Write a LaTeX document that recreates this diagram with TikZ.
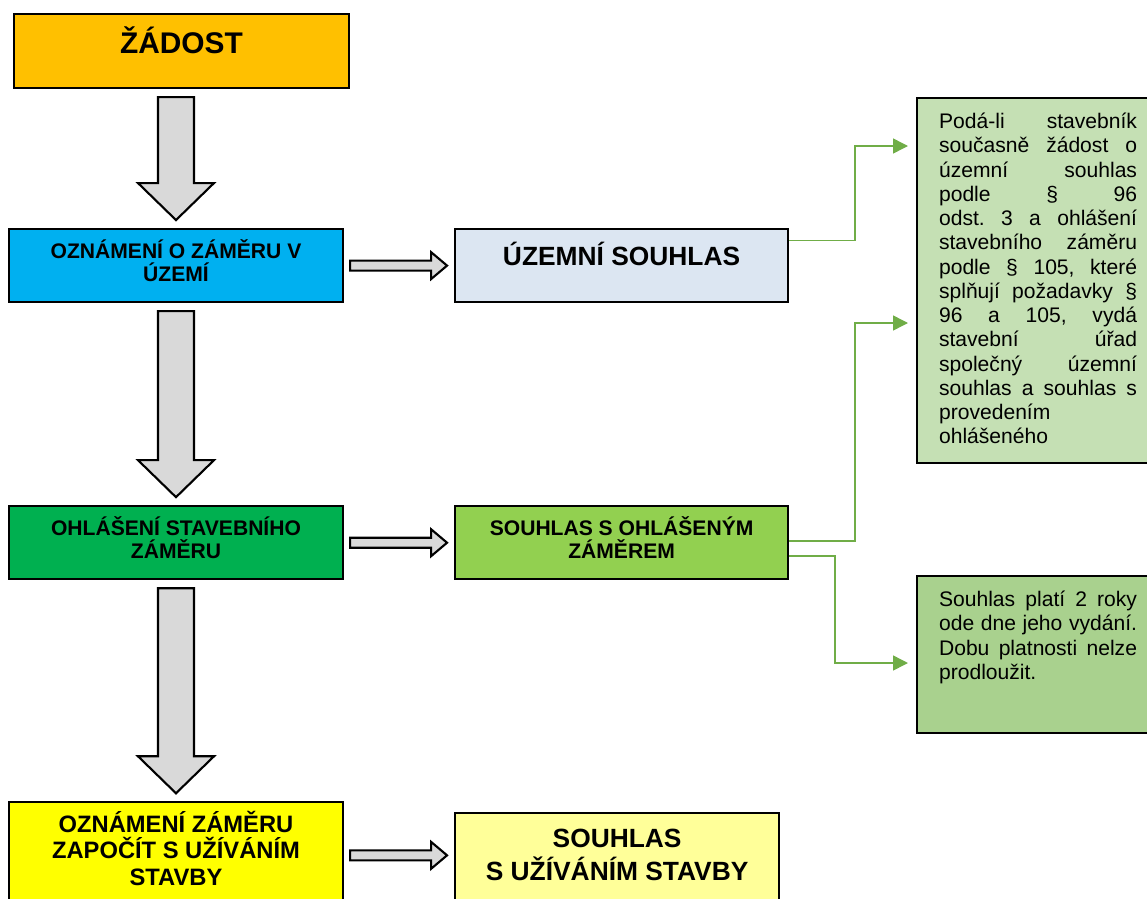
\documentclass[tikz,border=0pt]{standalone}
\usepackage{fontspec}
\setmainfont{Liberation Sans}
\usepackage{xcolor}
\usepackage{tikz}
\usetikzlibrary{positioning,calc,arrows.meta}

\definecolor{orangeA}{HTML}{FFC000}
\definecolor{blueA}{HTML}{00B0F0}
\definecolor{blueL}{HTML}{DCE6F2}
\definecolor{greenA}{HTML}{00B050}
\definecolor{greenL}{HTML}{92D050}
\definecolor{yellowA}{HTML}{FFFF00}
\definecolor{yellowL}{HTML}{FFFF99}
\definecolor{noteA}{HTML}{C5E0B4}
\definecolor{noteB}{HTML}{A9D18E}
\definecolor{arrowgray}{HTML}{D9D9D9}
\definecolor{linkgreen}{HTML}{70AD47}

\newcommand{\downblock}[2]{%
  \path[bigarr] let \p1=(#1), \p2=(#2) in
    (\x2-0.36cm,\y1-0.16cm) -- (\x2+0.36cm,\y1-0.16cm) -- (\x2+0.36cm,\y2+0.90cm)
    -- (\x2+0.76cm,\y2+0.90cm) -- (\x2,\y2+0.16cm) -- (\x2-0.76cm,\y2+0.90cm)
    -- (\x2-0.36cm,\y2+0.90cm) -- cycle;}
\newcommand{\rightblock}[2]{%
  \path[bigarr] let \p1=(#1), \p2=(#2) in
    (\x1+0.12cm,\y1+0.1cm) -- (\x2-0.46cm,\y1+0.1cm) -- (\x2-0.46cm,\y1+0.27cm)
    -- (\x2-0.14cm,\y1) -- (\x2-0.46cm,\y1-0.27cm) -- (\x2-0.46cm,\y1-0.1cm)
    -- (\x1+0.12cm,\y1-0.1cm) -- cycle;}
\newcommand{\notepar}[2]{%
  \begin{minipage}[t][#1][t]{3.96cm}
  \frenchspacing
  \hyphenpenalty=10000 \exhyphenpenalty=10000 \hbadness=10000
  #2
  \end{minipage}}

\begin{document}
\begin{tikzpicture}[
    stage/.style={
        rectangle,draw,line width=1.2pt,
        minimum width=6.68cm,
        minimum height=1.46cm,
        align=center,
        text depth=0.2cm,
        font=\bfseries\fontsize{12}{12.8}\selectfont
    },
    note/.style={
        rectangle,draw,line width=1.2pt,
        anchor=north west,
        inner xsep=0.44cm, inner ysep=0.3cm,
        font=\fontsize{12}{13.8}\selectfont
    },
    bigarr/.style={draw,line width=1.2pt,fill=arrowgray,line join=miter},
    link/.style={draw=linkgreen,line width=0.85pt,-{Triangle[length=0.3cm,width=0.3cm]}}
]
\useasboundingbox (0,0) rectangle (22.94,-17.98);

\node[stage, fill=orangeA, minimum width=6.70cm, minimum height=1.48cm,
      text height=0.5cm, text depth=0.4cm,
      font=\bfseries\fontsize{17}{20}\selectfont] (zadost) at (3.63,-1.02) {ŽÁDOST};
\node[stage, fill=blueA, below=2.78cm of zadost, xshift=-0.11cm] (oznameni) {OZNÁMENÍ O ZÁMĚRU V\\ÚZEMÍ};
\node[stage, fill=greenA, below=4.04cm of oznameni] (ohlaseni) {OHLÁŠENÍ STAVEBNÍHO\\ZÁMĚRU};
\node[stage, fill=yellowA, below=4.42cm of ohlaseni, minimum height=2.12cm, text depth=0.28cm,
      font=\bfseries\fontsize{13.5}{15.3}\selectfont] (uzivani) {OZNÁMENÍ ZÁMĚRU\\ZAPOČÍT S UŽÍVÁNÍM\\STAVBY};

\node[stage, fill=blueL, right=2.2cm of oznameni, minimum width=6.66cm,
      text height=0.45cm, text depth=0.45cm,
      font=\bfseries\fontsize{15}{17}\selectfont] (uzemni) {ÚZEMNÍ SOUHLAS};
\node[stage, fill=greenL, right=2.2cm of ohlaseni, minimum width=6.66cm] (souhlasohl) {SOUHLAS S OHLÁŠENÝM\\ZÁMĚREM};
\node[stage, fill=yellowL, right=2.2cm of uzivani, yshift=-0.11cm, minimum width=6.48cm, minimum height=1.9cm,
      text depth=0.24cm,
      font=\bfseries\fontsize{15}{18.7}\selectfont] (souhlasuz) {SOUHLAS\\S UŽÍVÁNÍM STAVBY};

\node[note, fill=noteA] (note1) at (18.32,-1.94) {\notepar{6.7cm}{Podá-li stavebník\linebreak
  současně žádost o\linebreak územní souhlas\linebreak podle § 96\linebreak
  odst. 3 a ohlášení\linebreak stavebního záměru\linebreak podle § 105, které\linebreak
  splňují požadavky §\linebreak 96 a 105, vydá\linebreak stavební úřad\linebreak
  společný územní\linebreak souhlas a souhlas s\linebreak provedením\newline ohlášeného}};
\node[note, fill=noteB] (note2) at (18.32,-11.5) {\notepar{2.54cm}{Souhlas platí 2 roky\linebreak
  ode dne jeho vydání.\linebreak Dobu platnosti nelze\linebreak prodloužit.}};

\downblock{zadost.south}{oznameni.north}
\downblock{oznameni.south}{ohlaseni.north}
\downblock{ohlaseni.south}{uzivani.north}
\rightblock{oznameni.east}{uzemni.west}
\rightblock{ohlaseni.east}{souhlasohl.west}
\rightblock{uzivani.east}{souhlasuz.west}

\draw[link] ([yshift=0.5cm]uzemni.east) -- ++(1.32cm,0) |- ([xshift=-0.16cm,yshift=-0.98cm]note1.north west);
\draw[link] ([yshift=0.03cm]souhlasohl.east) -- ++(1.32cm,0) |- ([xshift=-0.16cm,yshift=-4.52cm]note1.north west);
\draw[link] ([yshift=-0.27cm]souhlasohl.east) -- ++(0.92cm,0) |- ([xshift=-0.16cm,yshift=-1.76cm]note2.north west);
\end{tikzpicture}
\end{document}
